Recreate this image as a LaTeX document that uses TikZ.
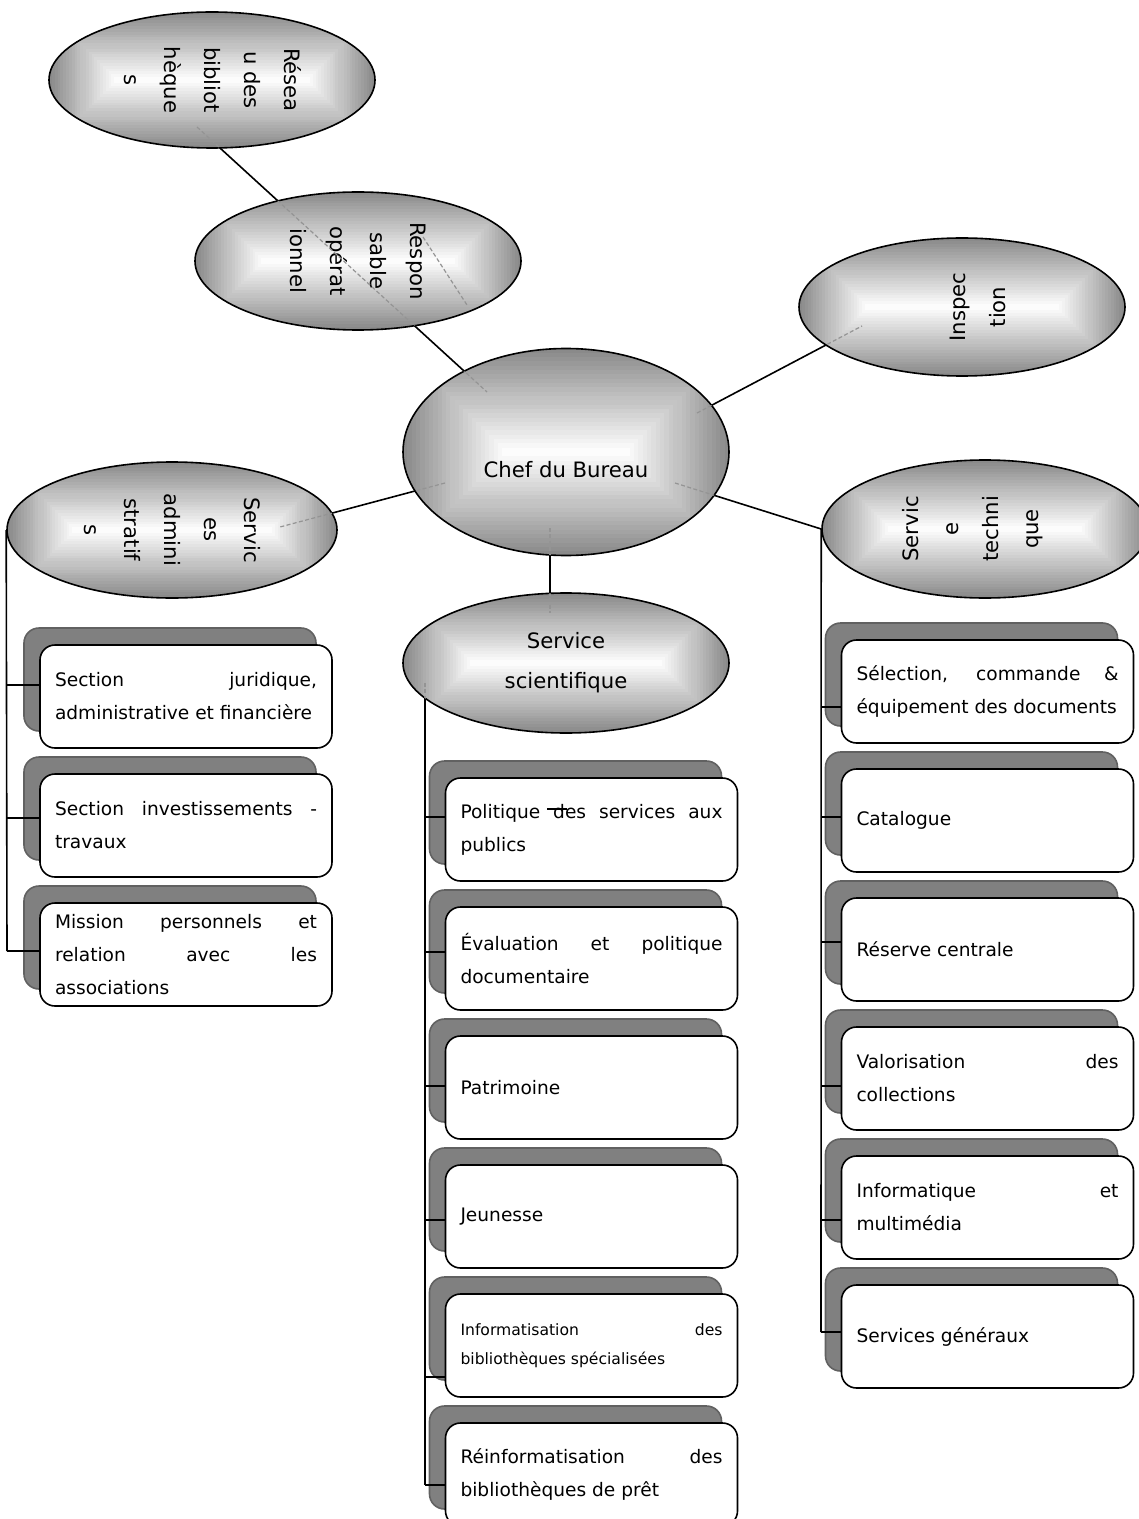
\documentclass[tikz,border=0pt]{standalone}
\usepackage{fontspec}
\setmainfont{DejaVu Sans}
\usepackage{graphicx}
\usetikzlibrary{positioning, shapes.geometric, shadows, backgrounds}

\hyphenpenalty=10000
\exhyphenpenalty=10000

\newcommand{\ovalfont}{\fontsize{10.6}{20}\selectfont}
\newcommand{\cardfont}{\fontsize{9.3}{16.5}\selectfont}
\newcommand{\smallcardfont}{\fontsize{7.8}{14.5}\selectfont}
\newcommand{\vtext}[2]{\rotatebox{#1}{\begin{tabular}{@{}c@{}}#2\end{tabular}}}
% banded grey fill of an oval: nested rectangles, lighter to the middle
\newcommand{\ovalfill}[2]{%
  \foreach \k in {0,...,24}{
    \pgfmathtruncatemacro{\ovaltone}{46-46*\k/24}
    \pgfmathsetmacro{\ovalw}{#1/2-\k*#2/48}
    \pgfmathsetmacro{\ovalh}{#2/2-\k*#2/48}
    \fill[black!\ovaltone] ([shift={(-\ovalw pt,-\ovalh pt)}]path picture bounding box.center)
      rectangle ([shift={(\ovalw pt,\ovalh pt)}]path picture bounding box.center);
  }}

\tikzset{
  bubble/.style n args={2}{ellipse, draw, line width=0.8pt, minimum width=#1pt,
    minimum height=#2pt, inner sep=0pt, font=\ovalfont, path picture={\ovalfill{#1}{#2}}},
  card/.style={draw, fill=white, line width=0.8pt, rounded corners=7.5pt,
    text width=131pt, inner xsep=7.5pt, inner ysep=0pt, minimum height=51.5pt,
    align=justify, font=\cardfont,
    drop shadow={shadow xshift=-8pt, shadow yshift=8.5pt, opacity=1,
      fill=black!50, draw=black!62}},
  link/.style={line width=0.8pt},
  hidden/.style={black!42, line width=0.6pt, dash pattern=on 2pt off 1.2pt},
}

\begin{document}
\begin{tikzpicture}[x=0.5pt, y=-0.5pt]
  \useasboundingbox (0,0) rectangle (1139,1519);

  % the ovals
  \node[bubble={163}{68}] (reseau) at (212,80) {\vtext{-90}{Résea\\u des\\bibliot\\hèque\\s}};
  \node[bubble={163}{69}] (resp) at (358,261) {\vtext{-90}{Respon\\sable\\opérat\\ionnel}};
  \node[bubble={163}{69}] (insp) at (962,307) {\hspace*{15pt}\vtext{90}{Inspec\\tion}};
  \node[bubble={163}{103.5}] (chef) at (566,452) {\raisebox{-12.5pt}[0pt][0pt]{Chef du Bureau}};
  \node[bubble={165}{68}] (adm) at (172,530) {\vtext{-90}{Servic\\es\\admini\\stratif\\s}};
  \node[bubble={163}{70}, align=center] (sci) at (566,663) {Service\\scientifique};
  \node[bubble={163}{69}] (tech) at (985,529) {\vtext{90}{Servic\\e\\techni\\que}\hspace*{15pt}};

  % services administratifs
  \node[card] (adm1) at (186,696.5) {Section juridique,\linebreak administrative et financière};
  \node[card, below=12.2pt of adm1] (adm2) {Section investissements -\linebreak travaux};
  \node[card, below=12.2pt of adm2] (adm3) {Mission personnels et\linebreak relation avec les\linebreak associations};

  % service scientifique
  \node[card] (sci1) at (591.5,829.5) {Politique des services aux\linebreak publics};
  \node[card, below=12.2pt of sci1] (sci2) {Évaluation et politique\linebreak documentaire};
  \node[card, below=12.2pt of sci2] (sci3) {Patrimoine};
  \node[card, below=12.2pt of sci3] (sci4) {Jeunesse};
  \node[card, below=12.2pt of sci4, font=\smallcardfont] (sci5) {Informatisation des\linebreak bibliothèques spécialisées};
  \node[card, below=12.2pt of sci5] (sci6) {Réinformatisation des\linebreak bibliothèques de prêt};

  % service technique
  \node[card] (tec1) at (987.5,691.5) {Sélection, commande \&\linebreak équipement des documents};
  \node[card, below=12.2pt of tec1] (tec2) {Catalogue};
  \node[card, below=12.2pt of tec2] (tec3) {Réserve centrale};
  \node[card, below=12.2pt of tec3] (tec4) {Valorisation des\linebreak collections};
  \node[card, below=12.2pt of tec4] (tec5) {Informatique et\linebreak multimédia};
  \node[card, below=12.2pt of tec5] (tec6) {Services généraux};

  % connector ends
  \coordinate (r1) at (197,127);
  \coordinate (c1) at (487,392);
  \coordinate (q1) at (423,237);
  \coordinate (q2) at (467,305);
  \coordinate (c2) at (697,413);
  \coordinate (i1) at (862,326);
  \coordinate (c3) at (445,483);
  \coordinate (a1) at (280,527);
  \coordinate (c4) at (675,483);
  \coordinate (c5) at (550,528);
  \coordinate (s1) at (550,613);
  \coordinate (stop) at (425,683);
  \coordinate (adm1 tick) at (7,685);
  \coordinate (adm2 tick) at (7,818);
  \coordinate (adm3 tick) at (7,951);
  \coordinate (sci1 tick) at (425,817);
  \coordinate (sci2 tick) at (425,952);
  \coordinate (sci3 tick) at (425,1086);
  \coordinate (sci4 tick) at (425,1220);
  \coordinate (sci5 tick) at (425,1377);
  \coordinate (sci6 tick) at (425,1485);
  \coordinate (tec1 tick) at (821,707);
  \coordinate (tec2 tick) at (821,817);
  \coordinate (tec3 tick) at (821,942);
  \coordinate (tec4 tick) at (821,1086);
  \coordinate (tec5 tick) at (821,1220);
  \coordinate (tec6 tick) at (821,1332);
  \coordinate (pol a) at (547,809);
  \coordinate (pol b) at (567,809);

  \begin{pgfonlayer}{background}
    \draw[link] (r1) -- (c1);
    \draw[link] (c2) -- (i1);
    \draw[link] (c3) -- (a1);
    \draw[link] (c4) -- (tech.west);
    \draw[link] (c5) -- (s1);
    \draw[link] (adm.west) -- (adm3 tick);
    \draw[link] (stop) -- (sci6 tick);
    \draw[link] (tech.west) -- (tec6 tick);
  \end{pgfonlayer}

  % the parts hidden behind the ovals
  \begin{scope}
    \clip (reseau.center) ellipse [x radius=81.5pt, y radius=34pt]
          (resp.center) ellipse [x radius=81.5pt, y radius=34.5pt]
          (insp.center) ellipse [x radius=81.5pt, y radius=34.5pt]
          (chef.center) ellipse [x radius=81.5pt, y radius=51.75pt]
          (adm.center) ellipse [x radius=82.5pt, y radius=34pt]
          (sci.center) ellipse [x radius=81.5pt, y radius=35pt];
    \draw[hidden] (r1) -- (c1);
    \draw[hidden] (q1) -- (q2);
    \draw[hidden] (c2) -- (i1);
    \draw[hidden] (c3) -- (a1);
    \draw[hidden] (c4) -- (tech.west);
    \draw[hidden] (c5) -- (s1);
    \draw[hidden] (stop) -- (sci6 tick);
  \end{scope}

  % ticks to the boxes
  \foreach \b in {adm1, adm2, adm3, sci1, sci2, sci3, sci4, sci5, sci6, tec1, tec2, tec3, tec4, tec5, tec6}
    \draw[link] (\b\space tick) -- (\b\space tick -| \b.west);
  \draw[line width=0.6pt] (pol a) -- (pol b);
\end{tikzpicture}
\end{document}
